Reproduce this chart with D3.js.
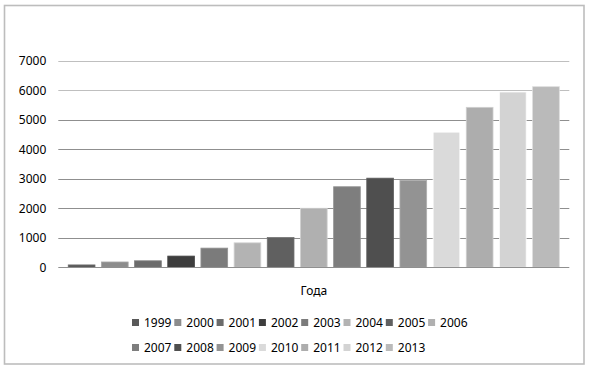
<!DOCTYPE html>
<html>
<head>
<meta charset="utf-8">
<script src="https://cdn.jsdelivr.net/npm/d3@7"></script>
<style>
  body { margin: 0; background: #fff; }
  svg { display: block; font-family: "Noto Sans", "Open Sans", sans-serif; }
</style>
</head>
<body>
<svg id="chart"></svg>
<script>
// Data
const years = ["1999", "2000", "2001", "2002", "2003", "2004", "2005", "2006",
               "2007", "2008", "2009", "2010", "2011", "2012", "2013"];
const values = [80, 180, 220, 380, 650, 830, 1010, 2000,
                2730, 3020, 2950, 4580, 5420, 5940, 6120];
const colors = ["#595959", "#8c8c8c", "#6b6b6b", "#3d3d3d", "#7b7b7b", "#b3b3b3", "#606060", "#b0b0b0",
                "#7e7e7e", "#4f4f4f", "#939393", "#dadada", "#adadad", "#d3d3d3", "#bababa"];
const yTicks = [0, 1000, 2000, 3000, 4000, 5000, 6000, 7000];
const xTitle = "Года";

// Dimensions
const width = 590;
const height = 371;
const plot = { left: 58.3, right: 569.3, top: 60.7, bottom: 267.3 };

const svg = d3.select("#chart")
    .attr("width", width)
    .attr("height", height);

// Outer frame
svg.append("rect")
    .attr("x", 4.5)
    .attr("y", 5.5)
    .attr("width", 579.5)
    .attr("height", 358.5)
    .attr("fill", "#fff")
    .attr("stroke", "#bdbdbd")
    .attr("stroke-width", 1.6);

// Scales
const x = d3.scaleBand()
    .domain(years)
    .range([plot.left, plot.right])
    .paddingInner(0.194)
    .paddingOuter(0.3);

const y = d3.scaleLinear()
    .domain([0, 7000])
    .range([plot.bottom, plot.top]);

// Gridlines
svg.append("g")
    .selectAll("line")
    .data(yTicks.filter(d => d > 0))
    .enter()
    .append("line")
    .attr("x1", plot.left)
    .attr("x2", plot.right)
    .attr("y1", d => Math.round(y(d)) + 0.5)
    .attr("y2", d => Math.round(y(d)) + 0.5)
    .attr("stroke", d => d >= 6000 ? "#bfbfbf" : "#8f8f8f")
    .attr("stroke-width", 1);

// Y axis labels
const yAxis = svg.append("g")
    .attr("transform", `translate(${plot.left},0)`)
    .call(d3.axisLeft(y).tickValues(yTicks).tickFormat(d3.format("d")).tickSize(0).tickPadding(12));
yAxis.select(".domain").remove();
yAxis.selectAll("text")
    .attr("font-size", 12)
    .attr("font-family", "Noto Sans, sans-serif")
    .attr("fill", "#000");

// Bars
svg.append("g")
    .selectAll("rect")
    .data(values)
    .enter()
    .append("rect")
    .attr("x", (d, i) => x(years[i]))
    .attr("y", d => y(d))
    .attr("width", x.bandwidth())
    .attr("height", d => plot.bottom - y(d))
    .attr("fill", (d, i) => colors[i])
    .attr("stroke", (d, i) => d3.color(colors[i]).brighter(0.5))
    .attr("stroke-width", 0.8);

// Baseline
svg.append("line")
    .attr("x1", plot.left)
    .attr("x2", plot.right)
    .attr("y1", Math.round(plot.bottom) + 0.5)
    .attr("y2", Math.round(plot.bottom) + 0.5)
    .attr("stroke", "#8f8f8f");

// Axis title
svg.append("text")
    .attr("x", (plot.left + plot.right) / 2)
    .attr("y", 295)
    .attr("text-anchor", "middle")
    .attr("font-size", 12)
    .text(xTitle);

// Legend: two rows
const perRow = 8;
const legendX = 132;
const legendStep = 42.3;
const legend = svg.append("g")
    .selectAll("g")
    .data(years)
    .enter()
    .append("g")
    .attr("transform", (d, i) =>
        `translate(${legendX + (i % perRow) * legendStep}, ${i < perRow ? 323 : 348})`);

legend.append("rect")
    .attr("x", 0)
    .attr("y", -4)
    .attr("width", 7)
    .attr("height", 7)
    .attr("fill", (d, i) => colors[i]);

legend.append("text")
    .attr("x", 12)
    .attr("y", 0)
    .attr("dy", "0.35em")
    .attr("font-size", 12)
    .text(d => d);
</script>
</body>
</html>
